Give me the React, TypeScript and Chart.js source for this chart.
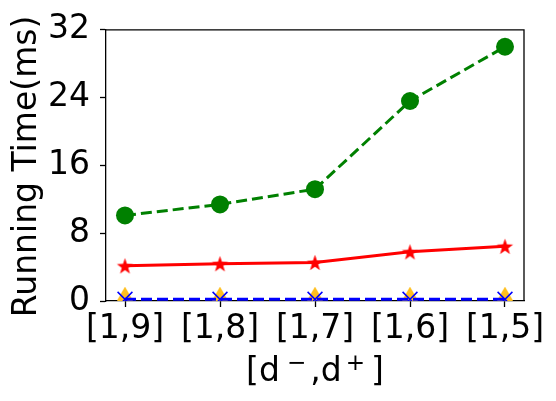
import React, { useEffect, useRef } from "react";
import { Chart, registerables } from "chart.js";

Chart.register(...registerables);

const categories = ["[1,9]", "[1,8]", "[1,7]", "[1,6]", "[1,5]"];
const greenValues = [10.1, 11.4, 13.2, 23.6, 30.0];
const redValues = [4.15, 4.4, 4.55, 5.8, 6.45];
const blueValues = [0.2, 0.2, 0.2, 0.2, 0.2];
const orangeValues = [0.05, 0.05, 0.05, 0.05, 0.05];
const yTicks = [0, 8, 16, 24, 32];
const yTitle = "Running Time(ms)";
// x title pieces: [text, isSuperscript]
const xTitleParts: [string, boolean][] = [
  ["[", false],
  ["d", false],
  ["\u2212", true],
  [",", false],
  ["d", false],
  ["+", true],
  ["]", false],
];

const FONT = "'DejaVu Sans', sans-serif";
const FS = 33;

function makeStar(color: string, outer: number, inner: number): HTMLCanvasElement {
  const size = Math.ceil(outer * 2 + 2);
  const c = document.createElement("canvas");
  c.width = size;
  c.height = size;
  const ctx = c.getContext("2d")!;
  const cx = size / 2;
  const cy = size / 2 + outer * 0.1;
  ctx.beginPath();
  for (let i = 0; i < 10; i++) {
    const r = i % 2 === 0 ? outer : inner;
    const a = -Math.PI / 2 + (i * Math.PI) / 5;
    const x = cx + r * Math.cos(a);
    const y = cy + r * Math.sin(a);
    if (i === 0) ctx.moveTo(x, y);
    else ctx.lineTo(x, y);
  }
  ctx.closePath();
  ctx.fillStyle = color;
  ctx.fill();
  return c;
}

function makeThinDiamond(color: string, hw: number, hh: number): HTMLCanvasElement {
  const c = document.createElement("canvas");
  c.width = Math.ceil(hw * 2);
  c.height = Math.ceil(hh * 2);
  const ctx = c.getContext("2d")!;
  const cx = c.width / 2;
  const cy = c.height / 2;
  ctx.beginPath();
  ctx.moveTo(cx, cy - hh);
  ctx.lineTo(cx + hw, cy);
  ctx.lineTo(cx, cy + hh);
  ctx.lineTo(cx - hw, cy);
  ctx.closePath();
  ctx.fillStyle = color;
  ctx.fill();
  return c;
}

const framePlugin = {
  id: "frameAndTitles",
  afterDraw(chart: any) {
    const { ctx, chartArea } = chart;
    ctx.save();
    ctx.strokeStyle = "#000";
    ctx.lineWidth = 1.3;
    ctx.beginPath();
    ctx.moveTo(chartArea.left, chartArea.top);
    ctx.lineTo(chartArea.right, chartArea.top);
    ctx.lineTo(chartArea.right, chartArea.bottom);
    ctx.stroke();

    // y title
    ctx.fillStyle = "#000";
    ctx.font = `${FS}px ${FONT}`;
    ctx.textAlign = "center";
    ctx.textBaseline = "alphabetic";
    ctx.save();
    ctx.translate(36, (chartArea.top + chartArea.bottom) / 2 + 1);
    ctx.rotate(-Math.PI / 2);
    ctx.fillText(yTitle, 0, 0);
    ctx.restore();

    // x title with superscripts
    const cx = (chartArea.left + chartArea.right) / 2;
    const baseY = 380.5;
    const supFS = FS * 0.7;
    const gaps = [0, 0, 7, 4, 0, 4, 6];
    const widths = xTitleParts.map(([t, sup]) => {
      ctx.font = `${sup ? supFS : FS}px ${FONT}`;
      return ctx.measureText(t).width;
    });
    const total = widths.reduce((a, b) => a + b, 0) + gaps.reduce((a, b) => a + b, 0);
    let x = cx - total / 2;
    ctx.textAlign = "left";
    xTitleParts.forEach(([t, sup], i) => {
      x += gaps[i];
      ctx.font = `${sup ? supFS : FS}px ${FONT}`;
      ctx.fillText(t, x, sup ? baseY - 11 : baseY);
      x += widths[i];
    });
    ctx.restore();
  },
};

export default function App() {
  const ref = useRef<HTMLCanvasElement>(null);
  useEffect(() => {
    const star = makeStar("#ff0000", 8.5, 3.4);
    const diamond = makeThinDiamond("#ffbf1f", 8, 14);
    const toPts = (vals: number[]) => vals.map((v, i) => ({ x: i, y: v }));
    const chart = new Chart(ref.current!, {
      type: "line",
      data: {
        datasets: [
          {
            data: toPts(greenValues),
            borderColor: "#008000",
            backgroundColor: "#008000",
            borderWidth: 3,
            borderDash: [11, 5],
            pointStyle: "circle",
            pointRadius: 9,
            pointBorderWidth: 0,
            pointBackgroundColor: "#008000",
          },
          {
            data: toPts(redValues),
            borderColor: "#ff0000",
            backgroundColor: "#ff0000",
            borderWidth: 3,
            pointStyle: star as any,
          },
          {
            data: toPts(blueValues),
            borderColor: "#0000ff",
            backgroundColor: "#0000ff",
            borderWidth: 3,
            borderDash: [11, 5],
            pointStyle: "crossRot",
            pointRadius: 10.5,
            pointBorderWidth: 1.5,
            clip: 0 as any,
          },
          {
            data: toPts(orangeValues),
            borderColor: "#ffbf1f",
            backgroundColor: "#ffbf1f",
            showLine: false,
            pointStyle: diamond as any,
            clip: 0 as any,
          },
        ],
      },
      options: {
        animation: false,
        responsive: false,
        events: [],
        layout: { padding: { top: 29, right: 32, left: 0, bottom: 0 } },
        plugins: { legend: { display: false }, tooltip: { enabled: false } },
        scales: {
          x: {
            type: "linear",
            min: -0.2,
            max: 4.2,
            afterBuildTicks: (scale: any) => {
              scale.ticks = categories.map((_, i) => ({ value: i }));
            },
            afterFit: (scale: any) => {
              scale.height = 100;
            },
            ticks: {
              callback: (v: any) => categories[Math.round(Number(v))] ?? "",
              font: { family: FONT, size: FS },
              color: "#000",
              padding: 3,
              maxRotation: 0,
              autoSkip: false,
            },
            grid: { drawOnChartArea: false, drawTicks: true, tickLength: 6, tickColor: "#000", tickWidth: 1.3 },
            border: { display: true, color: "#000", width: 1.3 },
          },
          y: {
            type: "linear",
            min: 0,
            max: 32,
            afterBuildTicks: (scale: any) => {
              scale.ticks = yTicks.map((v) => ({ value: v }));
            },
            afterFit: (scale: any) => {
              scale.width = 106;
            },
            ticks: {
              font: { family: FONT, size: FS },
              color: "#000",
              padding: 10,
            },
            grid: { drawOnChartArea: false, drawTicks: true, tickLength: 6, tickColor: "#000", tickWidth: 1.3 },
            border: { display: true, color: "#000", width: 1.3 },
          },
        },
      },
      plugins: [framePlugin],
    } as any);
    return () => chart.destroy();
  }, []);
  return (
    <div style={{ position: "absolute", left: 0, top: 0, width: 556, height: 401, background: "#fff" }}>
      <canvas ref={ref} width={556} height={401} />
    </div>
  );
}
